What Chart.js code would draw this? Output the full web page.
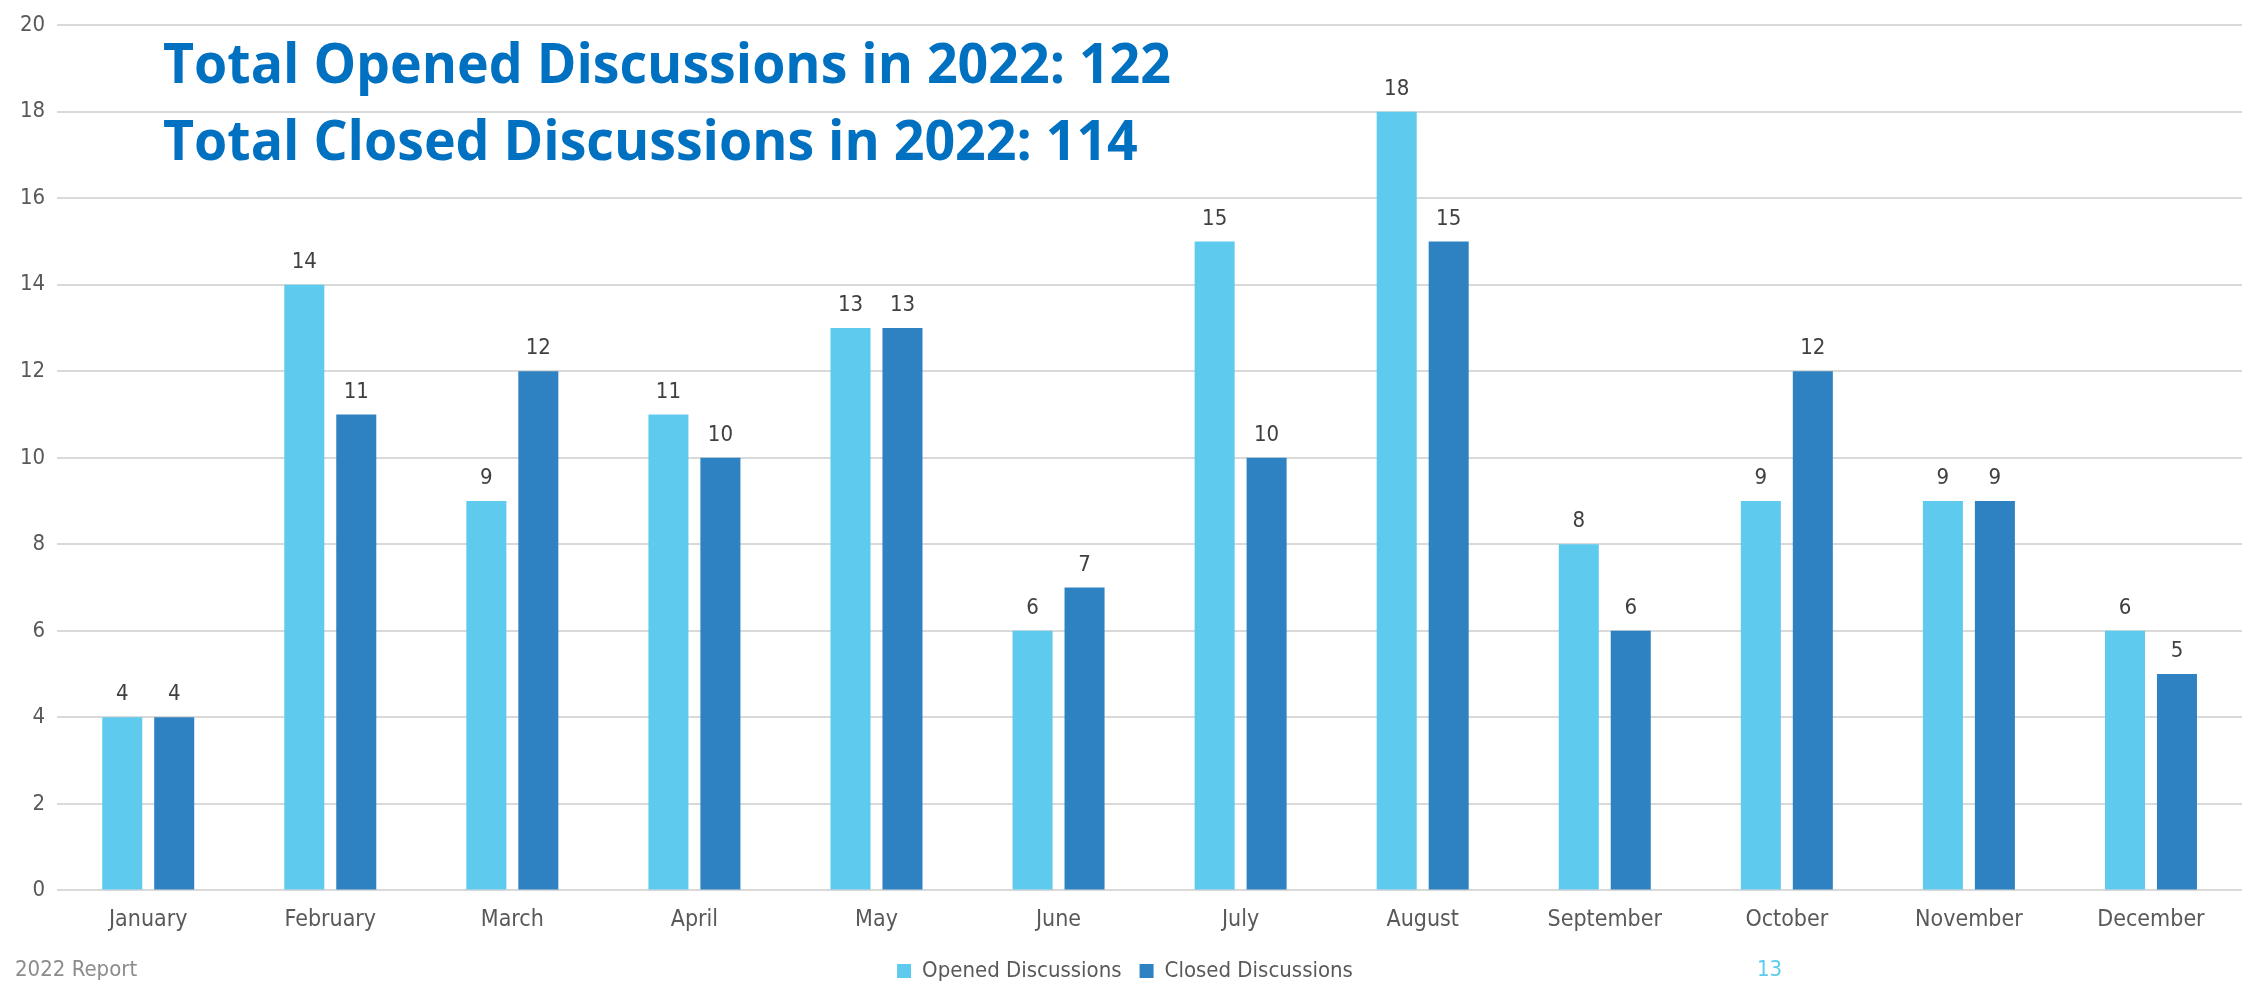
<!DOCTYPE html>
<html>
<head>
<meta charset="utf-8">
<script src="https://cdn.jsdelivr.net/npm/chart.js@4"></script>
<style>
  body { margin: 0; background: #fff; }
  #wrap { width: 2252px; height: 984px; position: relative; }
</style>
</head>
<body>
<div id="wrap"><canvas id="discussoes"></canvas></div>
<script>
// dados do grafico
var meses = ['January', 'February', 'March', 'April', 'May', 'June', 'July', 'August', 'September', 'October', 'November', 'December'];
var abertas = [4, 14, 9, 11, 13, 6, 15, 18, 8, 9, 9, 6];
var fechadas = [4, 11, 12, 10, 13, 7, 10, 15, 6, 12, 9, 5];
var titulos = ['Total Opened Discussions in 2022: 122', 'Total Closed Discussions in 2022: 114'];
var rodape = '2022 Report';
var pagina = '13';

var fonte = "'DejaVu Sans Condensed', 'DejaVu Sans', sans-serif";

// valores em cima das barras
var rotulosPlugin = {
    id: 'rotulos',
    afterDatasetsDraw: function (chart) {
        var ctx = chart.ctx;
        ctx.save();
        ctx.font = '22px ' + fonte;
        ctx.fillStyle = '#404040';
        ctx.textAlign = 'center';
        ctx.textBaseline = 'alphabetic';
        chart.data.datasets.forEach(function (ds, i) {
            chart.getDatasetMeta(i).data.forEach(function (bar, j) {
                ctx.fillText(ds.data[j], bar.x, bar.y - 17);
            });
        });
        ctx.restore();
    }
};

// titulo, rodape e numero da pagina
var textosPlugin = {
    id: 'textos',
    afterDraw: function (chart) {
        var ctx = chart.ctx;
        ctx.save();
        ctx.font = "bold 56px 'Open Sans', sans-serif";
        ctx.fillStyle = '#0070C0';
        ctx.textBaseline = 'alphabetic';
        var escala = 1008 / ctx.measureText(titulos[0]).width;
        titulos.forEach(function (t, i) {
            ctx.save();
            ctx.translate(163, 83 + i * 77);
            ctx.scale(escala, 1);
            ctx.fillText(t, 0, 0);
            ctx.restore();
        });
        ctx.font = '22px ' + fonte;
        ctx.textBaseline = 'middle';
        ctx.fillStyle = '#8c8c8c';
        ctx.fillText(rodape, 15, 970);
        ctx.fillStyle = '#5ECAEE';
        ctx.fillText(pagina, 1757, 970);
        ctx.restore();
    }
};

var ctx = document.getElementById('discussoes');
var grafico = new Chart(ctx, {
    type: 'bar',
    data: {
        labels: meses,
        datasets: [{
            label: 'Opened Discussions',
            data: abertas,
            backgroundColor: '#5ECAEE'
        }, {
            label: 'Closed Discussions',
            data: fechadas,
            backgroundColor: '#2E82C2'
        }]
    },
    options: {
        responsive: true,
        maintainAspectRatio: false,
        animation: false,
        layout: { padding: { left: 8, right: 10, top: -3, bottom: -8 } },
        datasets: {
            bar: { categoryPercentage: 0.571, barPercentage: 0.77 }
        },
        scales: {
            x: {
                grid: { display: false },
                border: { display: false },
                ticks: { color: '#595959', font: { family: fonte, size: 23 }, padding: 8 }
            },
            y: {
                min: 0,
                max: 20,
                ticks: { stepSize: 2, color: '#595959', font: { family: fonte, size: 22 }, padding: 12 },
                grid: { color: '#d9d9d9', lineWidth: 2, drawTicks: false },
                border: { display: false }
            }
        },
        plugins: {
            legend: {
                position: 'bottom',
                labels: {
                    boxWidth: 14,
                    boxHeight: 14,
                    padding: 18,
                    color: '#595959',
                    font: { family: fonte, size: 22 }
                }
            },
            tooltip: { enabled: false }
        }
    },
    plugins: [rotulosPlugin, textosPlugin]
});
</script>
</body>
</html>
